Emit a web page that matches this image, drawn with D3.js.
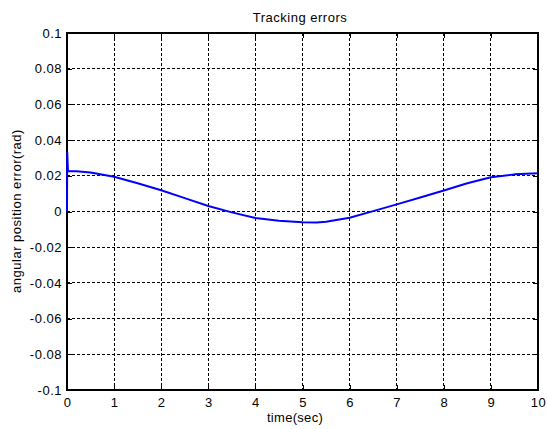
<!DOCTYPE html>
<html>
<head>
<meta charset="utf-8">
<script src="https://cdn.jsdelivr.net/npm/d3@7"></script>
<style>
  body { margin: 0; background: #fff; }
  svg { display: block; font-family: "Liberation Sans", Arial, sans-serif; }
</style>
</head>
<body>
<svg id="chart" width="547" height="429"></svg>
<script>
// time (sec) and tracking error (rad)
const time = [0, 0.005, 0.02, 0.2, 0.5, 1, 1.5, 2, 2.5, 3, 3.5, 4, 4.5, 5, 5.3, 5.5, 6, 6.5, 7, 7.5, 8, 8.5, 9, 9.5, 10]
const err = [0, 0.033, 0.0225, 0.0225, 0.0218, 0.0195, 0.0158, 0.0119, 0.0075, 0.0031, -0.0005, -0.0036, -0.0052, -0.006, -0.0062, -0.0058, -0.0035, 0.0002, 0.004, 0.0078, 0.0118, 0.0158, 0.0192, 0.0208, 0.0214]

const xTicks = [0, 1, 2, 3, 4, 5, 6, 7, 8, 9, 10]
const yTicks = [-0.1, -0.08, -0.06, -0.04, -0.02, 0, 0.02, 0.04, 0.06, 0.08, 0.1]

let margin = { top: 33, right: 9, bottom: 39, left: 67 }
let width = 547 - margin.left - margin.right
let height = 429 - margin.top - margin.bottom

let x = d3.scaleLinear().domain([0, 10]).range([0, width])
let y = d3.scaleLinear().domain([-0.1, 0.1]).range([height, 0])

let svg = d3.select("#chart")
let chart = svg.append("g")
  .attr("transform", "translate(" + margin.left + "," + margin.top + ")")

// grid
chart.append("g").selectAll("line")
  .data(xTicks.slice(1, -1))
  .enter().append("line")
  .attr("x1", d => x(d)).attr("x2", d => x(d))
  .attr("y1", 0).attr("y2", height)
  .attr("stroke", "#000").attr("stroke-width", 1)
  .attr("stroke-dasharray", "3,2")
  .attr("shape-rendering", "crispEdges")

chart.append("g").selectAll("line")
  .data(yTicks.slice(1, -1))
  .enter().append("line")
  .attr("y1", d => y(d)).attr("y2", d => y(d))
  .attr("x1", 0).attr("x2", width)
  .attr("stroke", "#000").attr("stroke-width", 1)
  .attr("stroke-dasharray", "3,2")
  .attr("shape-rendering", "crispEdges")

// axes, ticks pointing inward on all four sides
let fmtY = d => d === 0 ? "0" : String(+d.toFixed(2))
let xAxis = d3.axisBottom(x).tickValues(xTicks).tickSizeInner(-5).tickSizeOuter(0).tickPadding(8).tickFormat(d3.format("d"))
let yAxis = d3.axisLeft(y).tickValues(yTicks).tickSizeInner(-5).tickSizeOuter(0).tickPadding(5).tickFormat(fmtY)
let xTop = d3.axisTop(x).tickValues(xTicks).tickSizeInner(-5).tickSizeOuter(0).tickFormat("")
let yRight = d3.axisRight(y).tickValues(yTicks).tickSizeInner(-5).tickSizeOuter(0).tickFormat("")

function style(g) {
  g.selectAll("path").remove()
  g.selectAll("line").attr("stroke", "#000").attr("shape-rendering", "crispEdges")
  g.selectAll("text").attr("fill", "#000").attr("font-size", "13px")
    .attr("font-family", "Liberation Sans, Arial, sans-serif")
    .attr("letter-spacing", "0.5px")
}

chart.append("g").attr("transform", "translate(0," + height + ")").call(xAxis).call(style)
chart.append("g").call(yAxis).call(style)
chart.append("g").call(xTop).call(style)
chart.append("g").attr("transform", "translate(" + width + ",0)").call(yRight).call(style)

// frame
chart.append("rect")
  .attr("x", 0).attr("y", 0).attr("width", width).attr("height", height)
  .attr("fill", "none").attr("stroke", "#000").attr("stroke-width", 1.2)
  .attr("shape-rendering", "crispEdges")

// error curve
let line = d3.line()
  .x((d, i) => x(time[i]))
  .y(d => y(d))

chart.append("path")
  .datum(err)
  .attr("d", line)
  .attr("fill", "none")
  .attr("stroke", "#0000ff")
  .attr("stroke-width", 2)
  .attr("stroke-linejoin", "round")

// title and labels
svg.append("text")
  .attr("x", 300).attr("y", 22)
  .attr("text-anchor", "middle").attr("font-size", "13px").attr("letter-spacing", "0.5px")
  .text("Tracking errors")

svg.append("text")
  .attr("x", 295).attr("y", 422)
  .attr("text-anchor", "middle").attr("font-size", "13px").attr("letter-spacing", "0.3px")
  .text("time(sec)")

svg.append("text")
  .attr("transform", "translate(21," + 211 + ") rotate(-90)")
  .attr("text-anchor", "middle").attr("font-size", "13px").attr("letter-spacing", "0.5px")
  .text("angular position error(rad)")
</script>
</body>
</html>
